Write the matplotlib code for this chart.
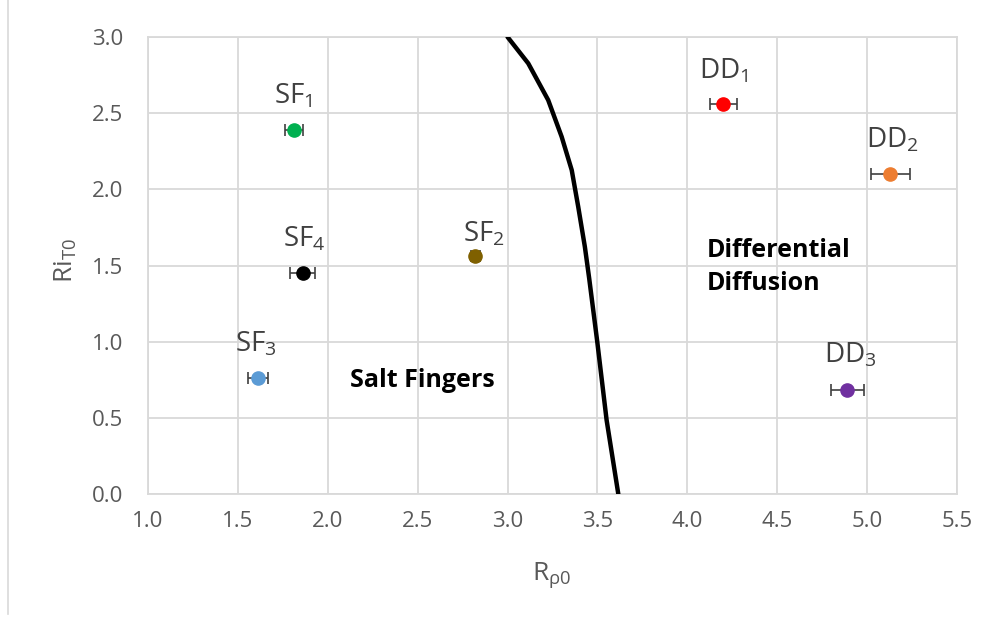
import matplotlib
matplotlib.use("Agg")
import matplotlib.pyplot as plt
from matplotlib.lines import Line2D

plt.rcParams['font.family'] = ['Open Sans', 'DejaVu Sans']
plt.rcParams['mathtext.fontset'] = 'custom'
plt.rcParams['mathtext.rm'] = 'Open Sans'
plt.rcParams['mathtext.it'] = 'Open Sans'

# Data
labels = ['SF$_1$', 'SF$_4$', 'SF$_2$', 'SF$_3$', 'DD$_1$', 'DD$_2$', 'DD$_3$']
r_rho = [1.81, 1.86, 2.82, 1.61, 4.20, 5.13, 4.89]
ri_t = [2.39, 1.45, 1.56, 0.76, 2.56, 2.10, 0.68]
x_err = [0.05, 0.07, 0.025, 0.055, 0.075, 0.11, 0.09]
colors = ['#00B050', '#000000', '#7F6000', '#5B9BD5', '#FF0000', '#ED7D31', '#7030A0']
label_offsets = [(0, 14), (1.5, 14), (6, 5.5), (-1.5, 14), (0.5, 13.5), (1, 14), (2, 15)]

curve_x = [3.00, 3.115, 3.226, 3.301, 3.357, 3.393, 3.430, 3.454, 3.499, 3.551, 3.616]
curve_y = [3.00, 2.827, 2.586, 2.345, 2.126, 1.886, 1.623, 1.416, 0.999, 0.485, 0.0]

xticks = [1.0, 1.5, 2.0, 2.5, 3.0, 3.5, 4.0, 4.5, 5.0, 5.5]
yticks = [0.0, 0.5, 1.0, 1.5, 2.0, 2.5, 3.0]

fig = plt.figure(figsize=(9.93, 6.2), dpi=100)
ax = fig.add_axes([148/993, 1-494/620, (957-148)/993, (494-37)/620])

ax.set_xlim(1.0, 5.5)
ax.set_ylim(0.0, 3.0)
ax.set_xticks(xticks)
ax.set_yticks(yticks)
ax.set_xticklabels([f'{v:.1f}' for v in xticks])
ax.set_yticklabels([f'{v:.1f}' for v in yticks])
ax.grid(True, color='#D9D9D9', linewidth=1.3, zorder=0)
ax.set_axisbelow(True)
for s in ax.spines.values():
    s.set_color('#D9D9D9')
    s.set_linewidth(1.3)
ax.tick_params(length=0, labelsize=16, labelcolor='#595959')
ax.tick_params(axis='y', pad=18)
ax.tick_params(axis='x', pad=12)

ax.plot(curve_x, curve_y, color='black', linewidth=3.2, solid_capstyle='round',
        solid_joinstyle='round', zorder=3)

for x, y, e, c, lab, off in zip(r_rho, ri_t, x_err, colors, labels, label_offsets):
    ax.errorbar(x, y, xerr=e, fmt='none', ecolor='#404040', elinewidth=1.2,
                capsize=4, capthick=1.2, zorder=4)
    ax.plot(x, y, 'o', color=c, markersize=9.5, zorder=5)
    ax.annotate(lab, (x, y), xytext=off, textcoords='offset points',
                ha='center', va='bottom', fontsize=20, color='#404040')

ax.text(2.524, 0.748, 'Salt Fingers', ha='center', va='center', fontsize=18,
        fontweight='bold', color='black')
ax.text(4.109, 1.49, 'Differential\nDiffusion', ha='left', va='center', fontsize=18,
        fontweight='bold', color='black', linespacing=1.45)

ax.set_xlabel(r'R$_{\rho0}$', fontsize=19, color='#595959', va='center')
ax.set_ylabel(r'Ri$_{\mathrm{T0}}$', fontsize=19, color='#595959', va='center')
ax.xaxis.set_label_coords(0.499, -0.177)
ax.yaxis.set_label_coords(-0.101, 0.51)

fig.add_artist(Line2D([8/993, 8/993], [0.01, 1.0], color='#D9D9D9', linewidth=1.2))

fig.savefig('out.png', dpi=100)
